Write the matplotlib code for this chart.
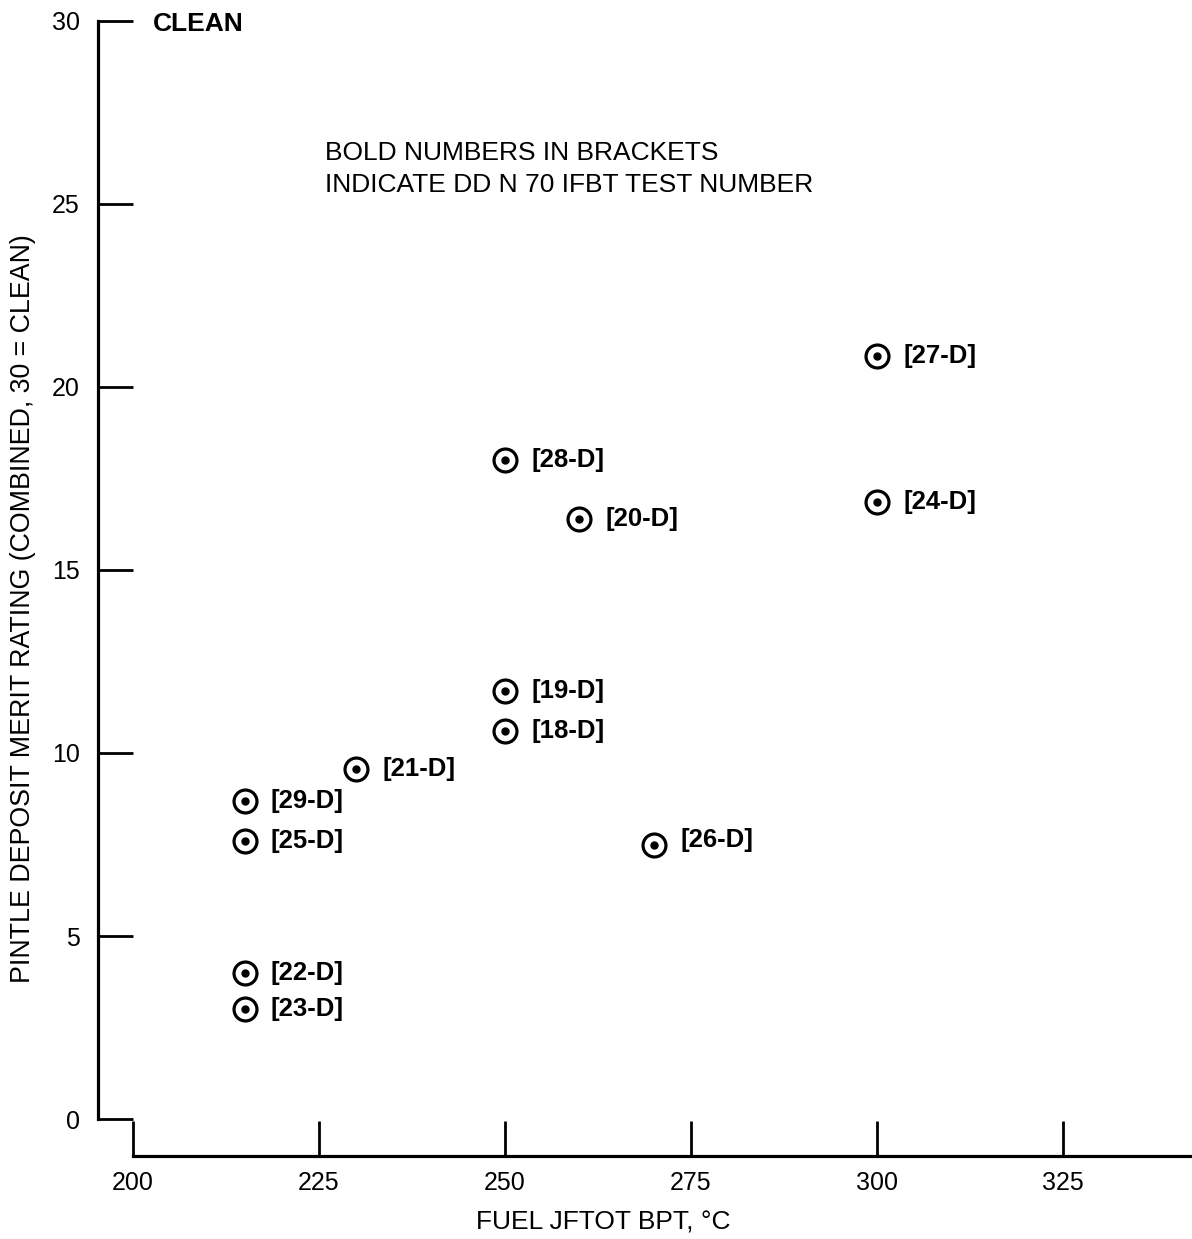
import matplotlib
matplotlib.use("Agg")
import matplotlib.pyplot as plt

# fuel JFTOT breakpoint temperature (deg C) vs pintle deposit merit rating
bpt = [300, 250, 260, 300, 250, 250, 230, 215, 215, 270, 215, 215]
rating = [20.85, 18.0, 16.4, 16.85, 11.7, 10.6, 9.55, 8.7, 7.6, 7.5, 4.0, 3.0]
tests = ["27-D", "28-D", "20-D", "24-D", "19-D", "18-D",
         "21-D", "29-D", "25-D", "26-D", "22-D", "23-D"]

x_ticks = [200, 225, 250, 275, 300, 325]
y_ticks = [0, 5, 10, 15, 20, 25, 30]

plt.rcParams['font.family'] = ['Liberation Sans', 'DejaVu Sans']

fig = plt.figure(figsize=(11.92, 12.39), dpi=100)
ax = fig.add_axes([98 / 1192, 1 - 1156 / 1239, 1094 / 1192, 1153 / 1239])

ax.set_xlim(195.3, 342.34)
ax.set_ylim(-1.01, 30.49)

for s in ['top', 'right']:
    ax.spines[s].set_visible(False)
ax.spines['left'].set_bounds(0, 30)
ax.spines['bottom'].set_bounds(200, 342.34)
for s in ['left', 'bottom']:
    ax.spines[s].set_linewidth(2.3)

ax.set_xticks(x_ticks)
ax.set_yticks(y_ticks)
ax.tick_params(direction='in', length=25, width=2.0, labelsize=18)
ax.tick_params(axis='y', pad=13)
ax.tick_params(axis='x', pad=11)

# circled-dot markers
ax.plot(bpt, rating, ls='none', marker='o', ms=16.5, mfc='white',
        mec='black', mew=2.3, clip_on=False)
ax.plot(bpt, rating, ls='none', marker='o', ms=5, color='black')

for x, y, t in zip(bpt, rating, tests):
    dy = 3 if t == "26-D" else 0
    ax.annotate(f"[{t}]", (x, y), xytext=(19, dy), textcoords='offset points',
                ha='left', va='center', fontsize=18.5, fontweight='bold')

ax.text(202.7, 29.92, "CLEAN", ha='left', va='center', fontsize=19,
        fontweight='bold')
ax.text(225.8, 25.95, "BOLD NUMBERS IN BRACKETS\nINDICATE DD N 70 IFBT TEST NUMBER",
        ha='left', va='center', fontsize=19, linespacing=1.4)

ax.set_xlabel("FUEL JFTOT BPT, \u00b0C", fontsize=19)
ax.xaxis.set_label_coords(0.4616, -0.047)
ax.set_ylabel("PINTLE DEPOSIT MERIT RATING (COMBINED, 30 = CLEAN)", fontsize=19.3)
ax.yaxis.set_label_coords(-0.057, 0.475)

fig.savefig("out.png", dpi=100)
